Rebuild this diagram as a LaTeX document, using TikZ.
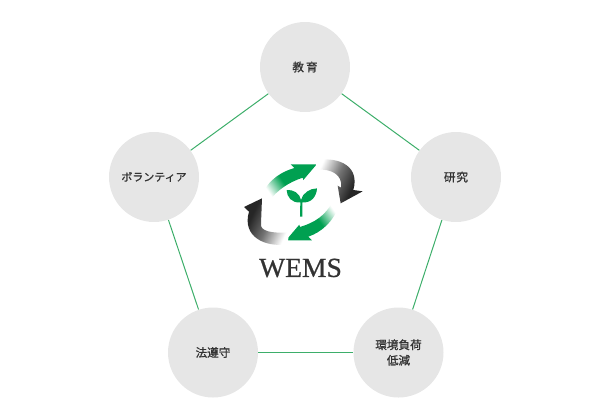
\documentclass[tikz,border=0pt]{standalone}
\usepackage{fontspec}
\setmainfont{Noto Sans CJK JP}
\newfontfamily\labelfont[FakeBold=1]{Noto Sans CJK JP}
\newfontfamily\logofont[FakeBold=0.7]{Liberation Serif}
\definecolor{wemsgreen}{HTML}{00A051}
\definecolor{linegreen}{HTML}{3DAE6A}
\definecolor{circlegray}{HTML}{E6E6E6}
\definecolor{labelgray}{HTML}{333333}
\pgfdeclarehorizontalshading{greenfade}{100bp}{color(0bp)=(white); color(26bp)=(white); color(45bp)=(wemsgreen); color(100bp)=(wemsgreen)}
\pgfdeclarehorizontalshading{darkfade}{100bp}{color(0bp)=(white); color(26bp)=(white); color(47bp)=(black!55); color(66bp)=(black!85); color(100bp)=(black!85)}
\tikzset{
  topic/.style={circle,fill=circlegray,minimum size=1.8cm,inner sep=0pt,align=center,
    font=\labelfont\fontsize{6.6}{8.8}\selectfont,text=labelgray},
  link/.style={linegreen,line width=0.57pt}
}
\begin{document}
\begin{tikzpicture}[x=0.2mm,y=0.2mm]
    \useasboundingbox (0,0) rectangle (610,-417);
    \node [topic] (edu) at (305,-67) {教\,育};
    \node [topic] (res) at (456,-177) {研\kern0.5pt究};
    \node [topic] (env) at (398.5,-352.5) {環境負荷\\低減};
    \node [topic] (law) at (213,-352.5) {法遵守};
    \node [topic,font=\labelfont\fontsize{6.25}{8.8}\selectfont] (vol) at (154,-177) {ボランティア};
    \draw [link] (edu) -- (res);
    \draw [link] (res) -- (env);
    \draw [link] (env) -- (law);
    \draw [link] (law) -- (vol);
    \draw [link] (vol) -- (edu);
    \begin{scope}[shift={(225,-145)},scale=0.3333]
    % arrows
    \shade [shading=greenfade,shading angle=35] (114,-142) .. controls (135,-102) and (170,-80) .. (208,-69) -- (197,-58) -- (275,-58) -- (235,-105) -- (233,-98) .. controls (192,-112) and (160,-132) .. (130,-170) -- cycle;
    \shade [shading=greenfade,shading angle=215] (345,-176) .. controls (325,-232) and (288,-262) .. (250,-275) -- (261,-286) -- (183,-286) -- (223,-239) -- (225,-246) .. controls (268,-233) and (302,-212) .. (324,-168) -- cycle;
    \shade [shading=darkfade,shading angle=-25] (275,-45) .. controls (345,-35) and (405,-65) .. (385,-135) -- (413,-139) -- (347,-175) -- (338,-122) -- (348,-128) .. controls (354,-90) and (320,-70) .. (272,-74) -- cycle;
    \shade [shading=darkfade,shading angle=155] (188,-298) .. controls (120,-308) and (50,-275) .. (72,-200) -- (57,-186) -- (111,-160) -- (108,-236) .. controls (104,-258) and (140,-266) .. (192,-262) -- cycle;
    % sprout
    \fill [wemsgreen] (225,-215) -- (226,-172) .. controls (200,-175) and (185,-155) .. (185,-135) .. controls (205,-133) and (225,-145) .. (228,-165) .. controls (232,-145) and (255,-130) .. (276,-130) .. controls (275,-155) and (258,-175) .. (232,-172) -- (232,-215) -- cycle;
    \end{scope}
    \node [font=\logofont\fontsize{15.7}{15.7}\selectfont,text=black!80,inner sep=0pt] (logo) at (300.5,-268) {WEMS};
\end{tikzpicture}
\end{document}
